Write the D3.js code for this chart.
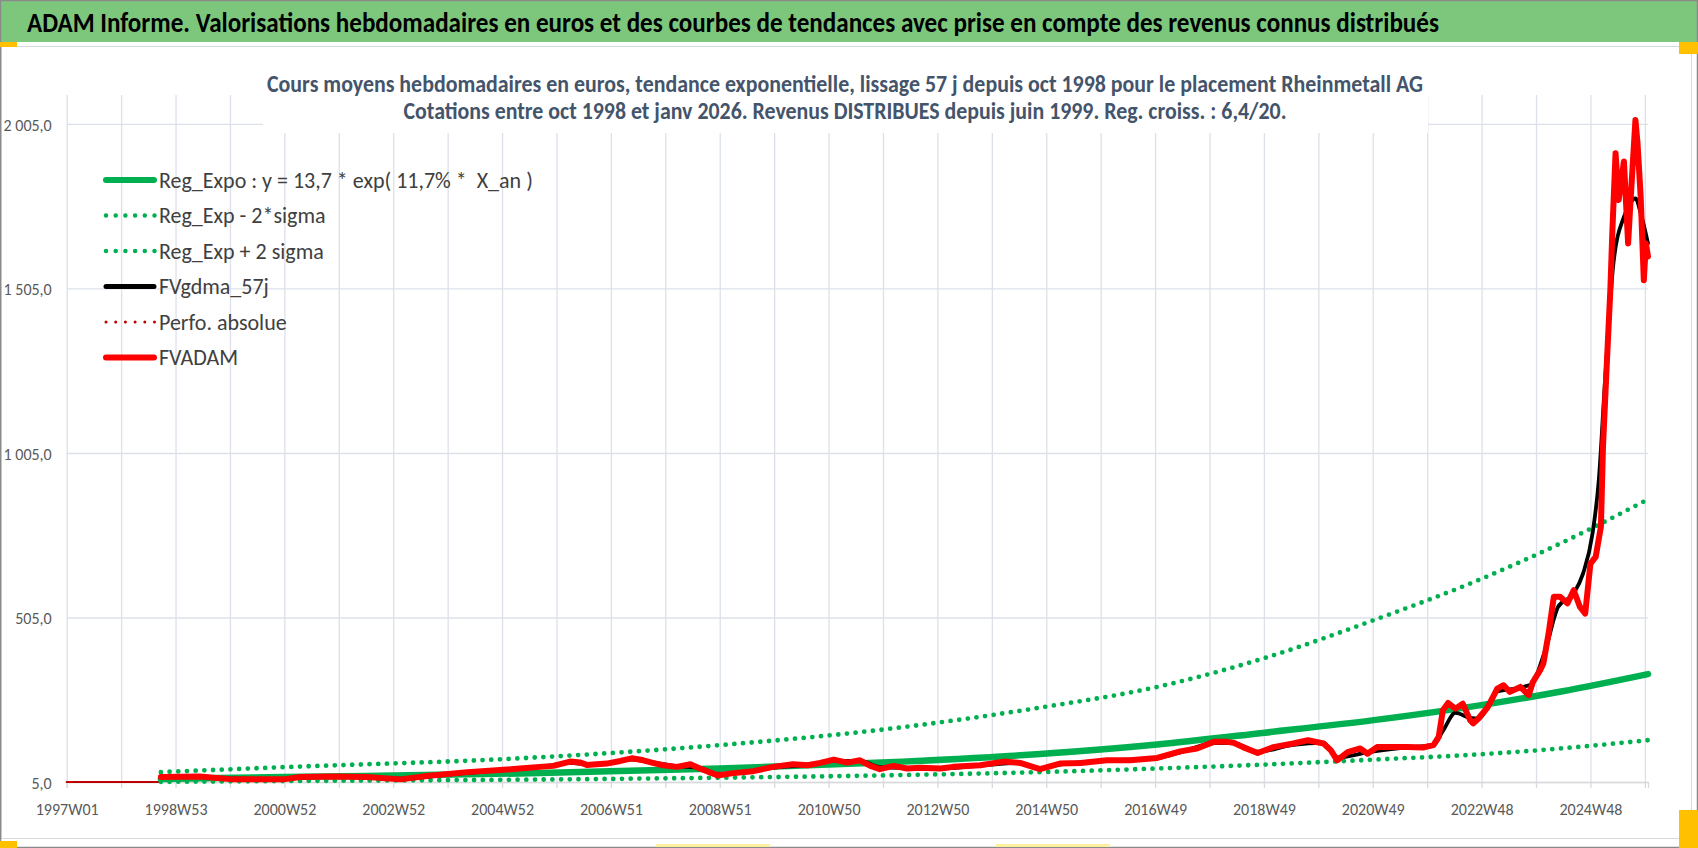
<!DOCTYPE html>
<html>
<head>
<meta charset="utf-8">
<script src="https://cdn.jsdelivr.net/npm/d3@7"></script>
<style>
  body { margin: 0; background: #fff; }
  svg { display: block; }
  text { font-family: Carlito, Calibri, Lato, 'Open Sans', sans-serif; }
</style>
</head>
<body>
<svg id="chart" width="1698" height="848"></svg>
<script>
// x values are week numbers counted from 1997W01 (one category per week)

const weekLabels = ['1997W01', '1998W53', '2000W52', '2002W52', '2004W52', '2006W51', '2008W51',
  '2010W50', '2012W50', '2014W50', '2016W49', '2018W49', '2020W49', '2022W48', '2024W48'];

const yTicks = [5, 505, 1005, 1505, 2005];

// before the first quote (flat line on the axis)
const preWeeks = [0, 90];
const preValues = [5, 5];

// FVADAM
const adamWeeks = [90, 127, 159, 207, 223, 255, 287, 319, 344, 383, 421, 433, 452, 465, 481, 491, 497, 516, 529, 540,
  551, 560, 570, 583, 596, 605, 622, 637, 656, 675, 694, 708, 720, 733, 746, 758, 768, 777, 790, 803,
  816, 835, 847, 873, 895, 911, 930, 949, 969, 994, 1016, 1042, 1064, 1080, 1096, 1109, 1115, 1124, 1138, 1153,
  1172, 1186, 1201, 1208, 1214, 1224, 1236, 1243, 1252, 1268, 1281, 1296, 1306, 1311, 1315, 1320, 1327, 1334, 1341, 1344,
  1349, 1358, 1367, 1373, 1379, 1389, 1397, 1401, 1408, 1411, 1416, 1421, 1427, 1434, 1440, 1446, 1451, 1456, 1461, 1466,
  1468, 1472, 1475, 1477, 1480, 1483, 1488, 1492, 1494, 1499, 1501, 1504, 1507, 1509, 1511];
const adamValues = [20, 22, 13, 13, 20, 22, 20, 13, 23, 35, 43, 46, 51, 54, 67, 64, 57, 61, 69, 77,
  71, 63, 56, 51, 59, 46, 25, 32, 38, 51, 59, 56, 63, 73, 64, 71, 54, 44, 54, 46,
  48, 46, 51, 56, 67, 63, 44, 61, 63, 71, 71, 78, 98, 107, 127, 127, 124, 111, 93, 111,
  122, 132, 122, 101, 71, 96, 107, 91, 111, 111, 111, 110, 117, 142, 223, 245, 228, 243, 193, 183,
  198, 233, 289, 299, 279, 294, 269, 309, 345, 365, 456, 568, 568, 548, 588, 537, 517, 669, 689, 781,
  1025, 1300, 1500, 1683, 1916, 1774, 1891, 1642, 1754, 2017, 1946, 1784, 1530, 1642, 1602];

// FVgdma_57j
const gdmaWeeks = [90, 127, 159, 207, 223, 255, 287, 319, 344, 383, 421, 452, 481, 497, 516, 540, 560, 583, 605, 622,
  637, 675, 708, 733, 758, 777, 803, 835, 873, 911, 930, 949, 994, 1042, 1064, 1096, 1115, 1138, 1172, 1201,
  1214, 1243, 1281, 1306, 1315, 1327, 1341, 1349, 1367, 1389, 1401, 1408, 1416, 1421, 1425, 1440, 1449, 1458, 1464, 1470,
  1478, 1488, 1494, 1499, 1504, 1511];
const gdmaValues = [20, 21, 15, 14, 18, 21, 19, 15, 21, 33, 42, 50, 63, 59, 61, 73, 65, 53, 48, 30,
  31, 49, 57, 69, 69, 50, 47, 46, 55, 63, 47, 58, 70, 77, 95, 123, 124, 97, 118, 124,
  80, 95, 110, 118, 160, 215, 200, 198, 280, 292, 305, 360, 440, 500, 537, 578, 639, 760, 923, 1227,
  1582, 1723, 1764, 1779, 1734, 1642];

// Reg_Expo and the 2 sigma bands
const regWeeks = [90, 207, 433, 624, 779, 930, 1042, 1145, 1249, 1350, 1428, 1511];
const regValues = [14, 20, 31, 46, 64, 90, 119, 155, 193, 238, 280, 333];
const regLowValues = [5.5, 8, 12, 18, 25, 35, 46, 58, 73, 89, 107, 132];
const regHighValues = [35, 50, 77, 117, 164, 231, 294, 382, 497, 620, 731, 864];

const legendLabels = ['Reg_Expo : y = 13,7 * exp( 11,7% *  X_an )', 'Reg_Exp - 2*sigma', 'Reg_Exp + 2 sigma',
  'FVgdma_57j', 'Perfo. absolue', 'FVADAM'];

const title = 'ADAM Informe. Valorisations hebdomadaires en euros et des courbes de tendances avec prise en compte des revenus connus distribués';
const subTitle1 = 'Cours moyens hebdomadaires en euros, tendance exponentielle, lissage 57 j depuis oct 1998 pour le placement Rheinmetall AG';
const subTitle2 = 'Cotations entre oct 1998 et janv 2026. Revenus DISTRIBUES depuis juin 1999. Reg. croiss. : 6,4/20.';

(function () {

  const width = 1698;
  const height = 848;
  const plot = { left: 66.7, right: 1648, top: 95, bottom: 782 };

  const green = '#00B050';
  const gridColor = '#DCE1E9';

  const svg = d3.select('#chart');

  ////////////
  // frame  //
  ////////////

  svg.append('rect')
    .attr('width', width).attr('height', height)
    .attr('fill', '#fff');

  svg.append('rect')
    .attr('x', 1).attr('y', 1)
    .attr('width', width - 2).attr('height', 41)
    .attr('fill', '#7DC77D');

  svg.append('text')
    .attr('x', 27).attr('y', 32)
    .attr('font-size', 28).attr('font-weight', 'bold')
    .attr('fill', '#000')
    .attr('textLength', 1412).attr('lengthAdjust', 'spacingAndGlyphs')
    .text(title);

  // chart border
  svg.append('rect')
    .attr('x', 1.5).attr('y', 46.5)
    .attr('width', 1690).attr('height', 792)
    .attr('fill', 'none').attr('stroke', '#D9D9D9');

  svg.append('rect')
    .attr('x', 0.5).attr('y', 0.5)
    .attr('width', width - 1).attr('height', height - 1)
    .attr('fill', 'none').attr('stroke', '#8A8A8A').attr('stroke-width', 1.5);

  // selection handles
  const handles = [[0, 42, 17, 5, '#FFC000'], [1679, 42, 19, 12, '#FFC000'], [1679, 810, 19, 38, '#FFC000'],
    [0, 841, 17, 7, '#FFC000'], [656, 844, 114, 3, '#FFF0A0'], [996, 844, 114, 3, '#FFF0A0']];
  svg.append('g').selectAll('rect')
    .data(handles)
    .enter().append('rect')
    .attr('x', d => d[0]).attr('y', d => d[1])
    .attr('width', d => d[2]).attr('height', d => d[3])
    .attr('fill', d => d[4]);

  ////////////
  // scales //
  ////////////

  const x = d3.scaleLinear().domain([0, 1511]).range([plot.left, plot.right]);
  const y = d3.scaleLinear().domain([5, 2093]).range([plot.bottom, plot.top]);

  const yearTicks = d3.range(0, 1509, 52);

  // vertical grid
  svg.append('g')
    .attr('transform', `translate(0,${plot.bottom})`)
    .call(d3.axisBottom(x).tickValues(yearTicks).tickSize(-(plot.bottom - plot.top)).tickFormat(''))
    .call(g => g.select('.domain').remove())
    .call(g => g.selectAll('line').attr('stroke', gridColor).attr('stroke-width', 1.3));

  // horizontal grid
  svg.append('g')
    .attr('transform', `translate(${plot.left},0)`)
    .call(d3.axisLeft(y).tickValues(yTicks).tickSize(-(plot.right - plot.left)).tickFormat(''))
    .call(g => g.select('.domain').remove())
    .call(g => g.selectAll('line').attr('stroke', gridColor).attr('stroke-width', 1.3));

  // subtitle box hides the grid behind it
  svg.append('rect')
    .attr('x', 263).attr('y', 50)
    .attr('width', 1165).attr('height', 83)
    .attr('fill', '#fff');

  svg.append('text')
    .attr('x', 845).attr('y', 92)
    .attr('text-anchor', 'middle')
    .attr('font-size', 24).attr('font-weight', 'bold')
    .attr('fill', '#44546A')
    .attr('textLength', 1156).attr('lengthAdjust', 'spacingAndGlyphs')
    .text(subTitle1);

  svg.append('text')
    .attr('x', 845).attr('y', 119)
    .attr('text-anchor', 'middle')
    .attr('font-size', 24).attr('font-weight', 'bold')
    .attr('fill', '#44546A')
    .attr('textLength', 883).attr('lengthAdjust', 'spacingAndGlyphs')
    .text(subTitle2);

  ///////////
  // axes  //
  ///////////

  const frFormat = d3.formatLocale({ decimal: ',', thousands: '\u00a0', grouping: [3], currency: ['', ' €'] }).format(',.1f');

  svg.append('g')
    .attr('transform', `translate(0,${plot.bottom})`)
    .call(d3.axisBottom(x).tickValues(yearTicks).tickSize(6)
      .tickFormat(d => (d % 104 === 0 ? weekLabels[d / 104] : '')))
    .call(g => g.select('.domain').attr('stroke', '#D9D9D9').attr('stroke-width', 1.3))
    .call(g => g.selectAll('line').attr('stroke', '#D9D9D9').attr('stroke-width', 1.3))
    .call(g => g.selectAll('text')
      .attr('y', 33).attr('dy', null)
      .attr('font-size', 16).attr('fill', '#595959'));

  svg.append('g')
    .attr('transform', `translate(${plot.left},0)`)
    .call(d3.axisLeft(y).tickValues(yTicks).tickSize(0).tickPadding(15).tickFormat(frFormat))
    .call(g => g.select('.domain').remove())
    .call(g => g.selectAll('text')
      .attr('dy', '0.4em')
      .attr('font-size', 16).attr('fill', '#595959'));

  svg.selectAll('g').attr('font-family', null);

  ///////////
  // lines //
  ///////////

  function draw(weeks, values, curve) {
    return d3.line()
      .x((d, i) => x(weeks[i]))
      .y(d => y(d))
      .curve(curve)(values);
  }

  const series = [
    { w: preWeeks, v: preValues, color: '#C00000', width: 2, dots: false, curve: d3.curveLinear },
    { w: regWeeks, v: regValues, color: green, width: 6.5, dots: false, curve: d3.curveMonotoneX },
    { w: regWeeks, v: regLowValues, color: green, width: 4.8, dots: true, curve: d3.curveMonotoneX },
    { w: regWeeks, v: regHighValues, color: green, width: 4.8, dots: true, curve: d3.curveMonotoneX },
    { w: gdmaWeeks, v: gdmaValues, color: '#000', width: 3.8, dots: false, curve: d3.curveMonotoneX },
    { w: adamWeeks, v: adamValues, color: '#FF0000', width: 6, dots: false, curve: d3.curveLinear }
  ];

  svg.append('g').selectAll('path')
    .data(series)
    .enter().append('path')
    .attr('d', d => draw(d.w, d.v, d.curve))
    .attr('fill', 'none')
    .attr('stroke', d => d.color)
    .attr('stroke-width', d => d.width)
    .attr('stroke-linejoin', 'round')
    .attr('stroke-linecap', 'round')
    .attr('stroke-dasharray', d => (d.dots ? '0 8.7' : null));

  ////////////
  // legend //
  ////////////

  const legendStyle = [
    { color: green, width: 6, dots: false },
    { color: green, width: 4.5, dots: true },
    { color: green, width: 4.5, dots: true },
    { color: '#000', width: 5, dots: false },
    { color: '#C00000', width: 3, dots: true },
    { color: '#FF0000', width: 6, dots: false }
  ];

  const legend = svg.append('g').selectAll('g')
    .data(legendLabels)
    .enter().append('g')
    .attr('transform', (d, i) => `translate(0,${180 + i * 35.5})`);

  legend.append('line')
    .attr('x1', 106).attr('x2', (d, i) => (legendStyle[i].dots ? 154.5 : 154))
    .attr('stroke', (d, i) => legendStyle[i].color)
    .attr('stroke-width', (d, i) => legendStyle[i].width)
    .attr('stroke-linecap', 'round')
    .attr('stroke-dasharray', (d, i) => (legendStyle[i].dots ? '0 9.7' : null));

  legend.append('text')
    .attr('x', 159).attr('y', 7.5)
    .attr('font-size', 22).attr('fill', '#404040')
    .style('white-space', 'pre')
    .text(d => d);

})();
</script>
</body>
</html>
